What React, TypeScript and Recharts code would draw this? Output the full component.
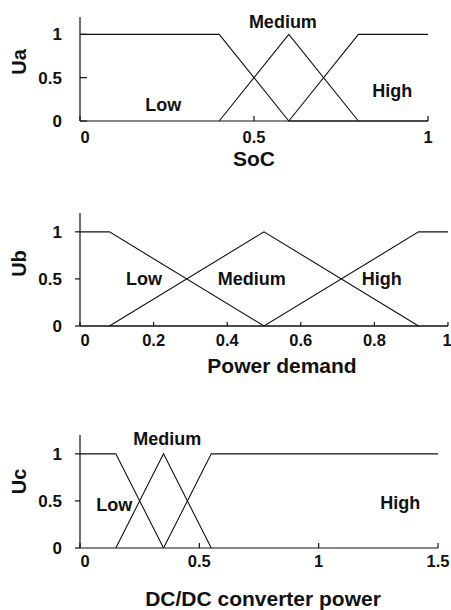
import React from "react";
import { LineChart, Line, XAxis, YAxis, Label, ReferenceDot } from "recharts";

// membership functions, one array per term: x = input value, u = degree
const SOC_LOW = [{ x: 0, u: 1 }, { x: 0.4, u: 1 }, { x: 0.6, u: 0 }, { x: 1, u: 0 }];
const SOC_MEDIUM = [{ x: 0.4, u: 0 }, { x: 0.6, u: 1 }, { x: 0.8, u: 0 }];
const SOC_HIGH = [{ x: 0.6, u: 0 }, { x: 0.8, u: 1 }, { x: 1, u: 1 }];

const PD_LOW = [{ x: 0, u: 1 }, { x: 0.08, u: 1 }, { x: 0.5, u: 0 }, { x: 1, u: 0 }];
const PD_MEDIUM = [{ x: 0.08, u: 0 }, { x: 0.5, u: 1 }, { x: 0.92, u: 0 }];
const PD_HIGH = [{ x: 0, u: 0 }, { x: 0.5, u: 0 }, { x: 0.92, u: 1 }, { x: 1, u: 1 }];

const DC_LOW = [{ x: 0, u: 1 }, { x: 0.15, u: 1 }, { x: 0.35, u: 0 }];
const DC_MEDIUM = [{ x: 0.15, u: 0 }, { x: 0.35, u: 1 }, { x: 0.55, u: 0 }];
const DC_HIGH = [{ x: 0.35, u: 0 }, { x: 0.55, u: 1 }, { x: 1.5, u: 1 }];

const SOC_TICKS = [0, 0.5, 1];
const PD_TICKS = [0, 0.2, 0.4, 0.6, 0.8, 1];
const DC_TICKS = [0, 0.5, 1, 1.5];
const U_TICKS = [0, 0.5, 1];

// term names and where they sit (data coords)
const SOC_TERMS = [
  { name: "Low", x: 0.239, u: 0.184 },
  { name: "Medium", x: 0.583, u: 1.149 },
  { name: "High", x: 0.897, u: 0.356 },
];
const PD_TERMS = [
  { name: "Low", x: 0.174, u: 0.504 },
  { name: "Medium", x: 0.467, u: 0.504 },
  { name: "High", x: 0.82, u: 0.504 },
];
const DC_TERMS = [
  { name: "Low", x: 0.144, u: 0.465 },
  { name: "Medium", x: 0.366, u: 1.165 },
  { name: "High", x: 1.342, u: 0.482 },
];

const FONT = "'Liberation Sans', Arial, Helvetica, sans-serif";
const INK = "#111";

function XTick(props: any) {
  const { x, y, payload } = props;
  return (
    <text x={x + (payload.value === 0 ? 5 : 0)} y={y} dy="0.71em" textAnchor="middle"
      fontFamily={FONT} fontWeight="bold" fontSize={16.5} fill={INK}>
      {payload.value}
    </text>
  );
}

function YTitle({ text, dy }: { text: string; dy: number }) {
  return (
    <Label
      content={(p: any) => {
        const vb = p.viewBox;
        const cy = vb.y + vb.height / 2 + dy;
        return (
          <text transform={`translate(26, ${cy}) rotate(-90)`} textAnchor="middle"
            fontFamily={FONT} fontWeight="bold" fontSize={20} fill={INK}>
            {text}
          </text>
        );
      }}
    />
  );
}

function Panel(props: {
  top: number; height: number; margin: any; xHeight: number;
  domain: number[]; ticks: number[]; series: any[][]; terms: any[];
  yTick: number; yMargin: number; xTick: number; xMargin: number;
  yTitle: string; yTitleDy: number; xTitle: string; xTitleOffset: number; xTitleDx: number;
}) {
  return (
    <div style={{ position: "absolute", left: 0, top: props.top }}>
      <LineChart width={451} height={props.height} margin={props.margin}>
        <XAxis type="number" dataKey="x" domain={props.domain} ticks={props.ticks}
          allowDataOverflow height={props.xHeight} stroke={INK} strokeWidth={1.2}
          tickSize={props.xTick} tickMargin={props.xMargin} tick={<XTick />}>
          <Label value={props.xTitle} position="insideBottom" offset={props.xTitleOffset} dx={props.xTitleDx}
            style={{ fontFamily: FONT, fontWeight: "bold", fontSize: 21, fill: INK }} />
        </XAxis>
        <YAxis type="number" domain={[0, 1.2]} ticks={U_TICKS} width={80}
          stroke={INK} strokeWidth={1.2} tickSize={props.yTick} tickMargin={props.yMargin}
          tick={{ fontFamily: FONT, fontWeight: "bold", fontSize: 17, fill: INK }}>
          {YTitle({ text: props.yTitle, dy: props.yTitleDy })}
        </YAxis>
        {props.series.map((s, i) => (
          <Line key={i} data={s} dataKey="u" type="linear" stroke={INK} strokeWidth={1.1}
            dot={false} activeDot={false} isAnimationActive={false} />
        ))}
        {props.terms.map((t) => (
          <ReferenceDot key={t.name} x={t.x} y={t.u} r={0} fill="none" stroke="none" ifOverflow="visible"
            label={{ value: t.name, position: "center", fontFamily: FONT, fontWeight: "bold", fontSize: 18, fill: INK }} />
        ))}
      </LineChart>
    </div>
  );
}

export default function App() {
  return (
    <div style={{ position: "absolute", left: 0, top: 0, width: 451, height: 610, background: "#fff" }}>
      <Panel top={0} height={180} margin={{ top: 17, right: 23, bottom: 0, left: 0 }} xHeight={59}
        domain={[0, 1]} ticks={SOC_TICKS} series={[SOC_LOW, SOC_MEDIUM, SOC_HIGH]} terms={SOC_TERMS}
        yTick={-7} yMargin={25} xTick={-5} xMargin={15}
        yTitle="Ua" yTitleDy={-7} xTitle="SoC" xTitleOffset={14} xTitleDx={0} />
      <Panel top={180} height={200} margin={{ top: 33, right: 3, bottom: 0, left: 0 }} xHeight={54}
        domain={[0, 1]} ticks={PD_TICKS} series={[PD_LOW, PD_MEDIUM, PD_HIGH]} terms={PD_TERMS}
        yTick={5} yMargin={13} xTick={-4} xMargin={12}
        yTitle="Ub" yTitleDy={-6} xTitle="Power demand" xTitleOffset={7} xTitleDx={18} />
      <Panel top={400} height={210} margin={{ top: 35, right: 13, bottom: 0, left: 0 }} xHeight={62}
        domain={[0, 1.5]} ticks={DC_TICKS} series={[DC_LOW, DC_MEDIUM, DC_HIGH]} terms={DC_TERMS}
        yTick={5} yMargin={13} xTick={-5} xMargin={12}
        yTitle="Uc" yTitleDy={-10} xTitle="DC/DC converter power" xTitleOffset={4} xTitleDx={4} />
    </div>
  );
}
